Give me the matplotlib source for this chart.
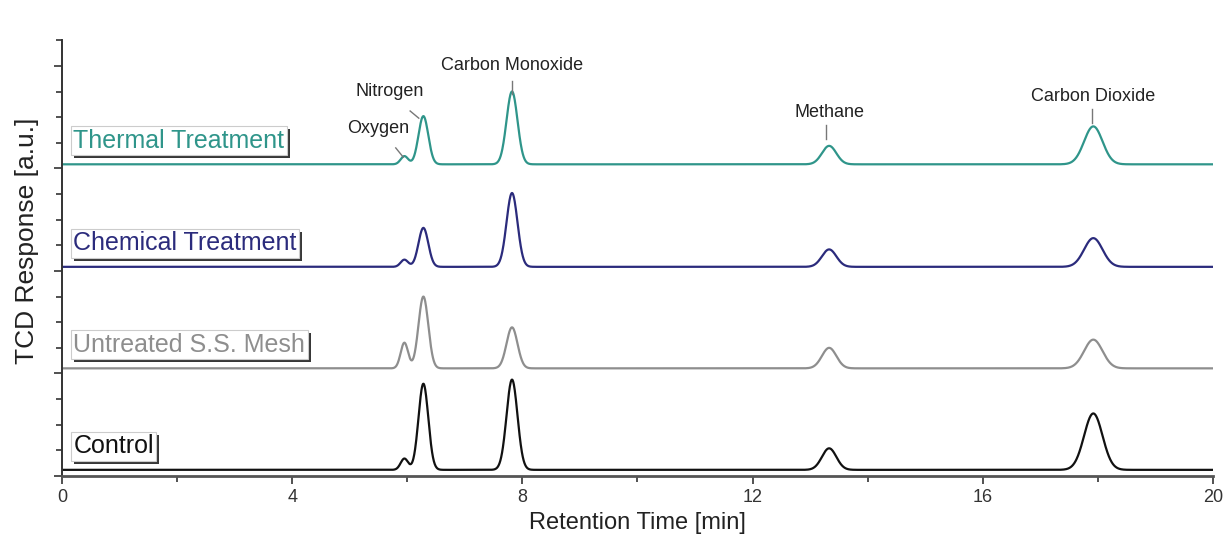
import numpy as np
import matplotlib.pyplot as plt
from matplotlib.ticker import MultipleLocator
import matplotlib.patheffects as pe

plt.rcParams['font.family'] = ['Liberation Sans', 'DejaVu Sans']

# peak positions [min] (O2, N2, CO, CH4, CO2)
peak_times = [5.95, 6.28, 7.82, 13.33, 17.92]
peak_widths = [0.065, 0.085, 0.095, 0.125, 0.16]

# peak heights above baseline [a.u.], bottom to top
control_peaks = [0.11, 0.84, 0.88, 0.21, 0.55]
untreated_peaks = [0.25, 0.70, 0.40, 0.20, 0.28]
chemical_peaks = [0.07, 0.38, 0.72, 0.17, 0.28]
thermal_peaks = [0.08, 0.47, 0.71, 0.18, 0.37]

series_names = ['Control', 'Untreated S.S. Mesh', 'Chemical Treatment', 'Thermal Treatment']
series_peaks = [control_peaks, untreated_peaks, chemical_peaks, thermal_peaks]
baselines = [0.06, 1.05, 2.04, 3.04]
colors = ['#111111', '#8e8e8e', '#2b2b7c', '#2f958a']

gas_names = ['Oxygen', 'Nitrogen', 'Carbon Monoxide', 'Methane', 'Carbon Dioxide']


def trace(t, heights, base):
    y = np.full_like(t, base)
    for t0, w, h in zip(peak_times, peak_widths, heights):
        y += h * np.exp(-0.5 * ((t - t0) / w) ** 2)
    return y


t = np.linspace(0, 20, 4000)

fig = plt.figure(figsize=(12.29, 5.44), dpi=100)
ax = fig.add_axes([0.0504, 0.125, 0.9366, 0.801])

for name, peaks, base, c in zip(series_names, series_peaks, baselines, colors):
    ax.plot(t, trace(t, peaks, base), color=c, lw=1.6)
    txt = ax.text(0.2, base + 0.23, name, color=c, fontsize=18, va='center', ha='left',
                  bbox=dict(boxstyle='square,pad=0.1', fc='white', ec='#cccccc', lw=0.8))
    txt.get_bbox_patch().set_path_effects([
        pe.withSimplePatchShadow(offset=(2, -2), shadow_rgbFace='#222222', alpha=0.9)])

# peak labels over the thermal trace
label_xy = [(5.5, 3.39), (5.7, 3.75), (7.82, 4.0), (13.33, 3.55), (17.92, 3.70)]
line_seg = [((5.8, 3.20), (5.93, 3.11)), ((6.05, 3.56), (6.2, 3.49)),
            ((7.82, 3.85), (7.82, 3.73)), ((13.28, 3.42), (13.28, 3.29)),
            ((17.9, 3.58), (17.9, 3.44))]
for name, (lx, ly), (p0, p1) in zip(gas_names, label_xy, line_seg):
    ax.text(lx, ly, name, fontsize=13, ha='center', va='center', color='#222222')
    ax.plot([p0[0], p1[0]], [p0[1], p1[1]], color='#777777', lw=1.0)

ax.set_xlim(0, 20)
ax.set_ylim(0, 4.25)
ax.xaxis.set_major_locator(MultipleLocator(4))
ax.xaxis.set_minor_locator(MultipleLocator(2))
ax.yaxis.set_major_locator(MultipleLocator(1))
ax.yaxis.set_minor_locator(MultipleLocator(0.25))
ax.set_yticklabels([])
ax.tick_params(axis='y', which='both', direction='out', length=6, width=1.2, color='#333333')
ax.tick_params(axis='y', which='minor', length=4)
ax.tick_params(axis='x', which='major', direction='out', length=6, width=1.2, labelsize=13,
               color='#333333', labelcolor='#333333')
ax.tick_params(axis='x', which='minor', direction='out', length=4, width=1.2, color='#333333')
for s in ['top', 'right']:
    ax.spines[s].set_visible(False)
ax.spines['left'].set_linewidth(1.4)
ax.spines['bottom'].set_linewidth(2.0)
ax.spines['left'].set_color('#333333')
ax.spines['bottom'].set_color('#555555')

ax.set_xlabel('Retention Time [min]', fontsize=17, color='#222222', labelpad=4)
ax.set_ylabel('TCD Response [a.u.]', fontsize=19, color='#222222', labelpad=8)
ax.yaxis.set_label_coords(-0.02, 0.54)

fig.savefig('out.png', dpi=100)
